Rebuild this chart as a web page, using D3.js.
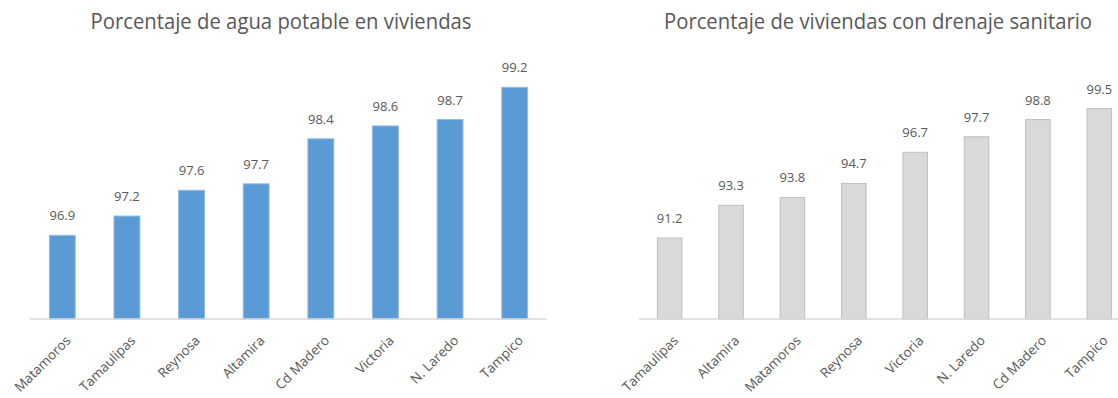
<!DOCTYPE html>
<html>
<head>
<meta charset="utf-8">
<script src="https://cdn.jsdelivr.net/npm/d3@7"></script>
<style>
  body { margin: 0; background: #fff; }
  text { font-family: "Open Sans", "Noto Sans", sans-serif; fill: #595959; }
</style>
</head>
<body>
<div class="chart"></div>
<script>
// Two bar charts: drinking water and sanitary drainage in homes (%)

var aguaCiudades = ["Matamoros", "Tamaulipas", "Reynosa", "Altamira", "Cd Madero", "Victoria", "N. Laredo", "Tampico"];
var aguaValores = [96.9, 97.2, 97.6, 97.7, 98.4, 98.6, 98.7, 99.2];

var drenajeCiudades = ["Tamaulipas", "Altamira", "Matamoros", "Reynosa", "Victoria", "N. Laredo", "Cd Madero", "Tampico"];
var drenajeValores = [91.2, 93.3, 93.8, 94.7, 96.7, 97.7, 98.8, 99.5];

var svgWidth = 1118;
var svgHeight = 398;

var svg = d3.select(".chart")
  .append("svg")
  .attr("width", svgWidth)
  .attr("height", svgHeight);

// draws one chart; the x and y ranges are the plot area inside the page
function drawChart(opts) {
  var data = opts.cities.map(function(c, i) {
    return { city: c, value: opts.values[i] };
  });

  var xScale = d3.scaleBand()
    .domain(opts.cities)
    .range(opts.xRange)
    .paddingInner(0.6)
    .paddingOuter(0.3);

  var yScale = d3.scaleLinear()
    .domain(opts.yDomain)
    .range(opts.yRange);

  var g = svg.append("g");

  // title
  g.append("text")
    .attr("x", opts.titleX)
    .attr("y", 29)
    .attr("text-anchor", "middle")
    .attr("font-size", "21px")
    .attr("textLength", opts.titleWidth)
    .attr("lengthAdjust", "spacingAndGlyphs")
    .text(opts.title);

  // bars
  g.selectAll("rect")
    .data(data)
    .enter().append("rect")
      .attr("x", function(d) { return xScale(d.city); })
      .attr("y", function(d) { return yScale(d.value); })
      .attr("width", xScale.bandwidth())
      .attr("height", function(d) { return yScale.range()[0] - yScale(d.value); })
      .attr("fill", opts.fill)
      .attr("stroke", opts.stroke)
      .attr("stroke-width", 1);

  // value labels above bars
  g.selectAll(".valor")
    .data(data)
    .enter().append("text")
      .attr("class", "valor")
      .attr("x", function(d) { return xScale(d.city) + xScale.bandwidth() / 2; })
      .attr("y", function(d) { return yScale(d.value) - 15; })
      .attr("text-anchor", "middle")
      .attr("font-size", "13px")
      .text(function(d) { return d.value.toFixed(1); });

  // category axis along the bottom
  var bottomAxis = d3.axisBottom(xScale).tickSize(0).tickPadding(0);

  var axis = g.append("g")
    .attr("transform", "translate(0," + opts.yRange[0] + ")")
    .call(bottomAxis);

  axis.select(".domain")
    .attr("stroke", "#d9d9d9")
    .attr("stroke-width", 1.5)
    .attr("d", "M" + opts.xRange[0] + ",0H" + opts.axisEnd);

  axis.selectAll(".tick text")
    .attr("font-size", "13.5px")
    .attr("font-family", "\"Open Sans\", sans-serif")
    .attr("fill", "#595959")
    .attr("text-anchor", "end")
    .attr("dy", "0.35em")
    .attr("transform", "translate(6,19) rotate(-45)");
}

drawChart({
  title: "Porcentaje de agua potable en viviendas",
  titleX: 281,
  titleWidth: 381,
  cities: aguaCiudades,
  values: aguaValores,
  xRange: [30, 547],
  axisEnd: 547,
  yDomain: [95.6, 99.6],
  yRange: [319, 61.6],
  fill: "#5b9bd5",
  stroke: "#8fb9e3"
});

drawChart({
  title: "Porcentaje de viviendas con drenaje sanitario",
  titleX: 878,
  titleWidth: 428,
  cities: drenajeCiudades,
  values: drenajeValores,
  xRange: [639, 1130],
  axisEnd: 1118,
  yDomain: [86, 100],
  yRange: [319, 100.9],
  fill: "#d9d9d9",
  stroke: "#bfbfbf"
});
</script>
</body>
</html>
